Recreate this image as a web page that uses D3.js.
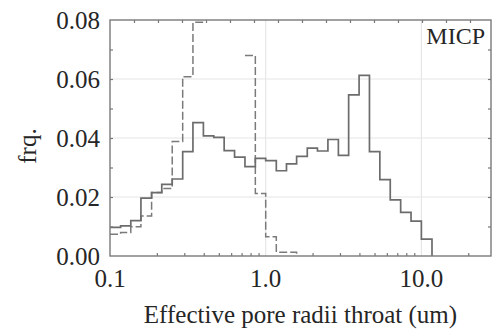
<!DOCTYPE html>
<html>
<head>
<meta charset="utf-8">
<script src="https://cdn.jsdelivr.net/npm/d3@7"></script>
<style>
body { margin:0; background:#fff; }
svg text { font-family:"Liberation Serif", "DejaVu Serif", serif; fill:#262626; }
</style>
</head>
<body>
<div id="chart"></div>
<script>
// bin edges (um), 15 bins per decade
var binEdges = [0.1, 0.117, 0.136, 0.158, 0.185, 0.215, 0.251, 0.293, 0.341, 0.398,
	0.464, 0.541, 0.631, 0.736, 0.858, 1.0, 1.17, 1.36, 1.58, 1.85,
	2.15, 2.51, 2.93, 3.41, 3.98, 4.64, 5.41, 6.31, 7.36, 8.58,
	10.0, 11.7];
// solid series (one value per bin)
var solidVals = [0.0097, 0.0102, 0.0120, 0.0196, 0.0215, 0.0243, 0.0261, 0.0354, 0.0452, 0.0407,
	0.0402, 0.0357, 0.0335, 0.0303, 0.0331, 0.0323, 0.0289, 0.0312, 0.0338, 0.0366,
	0.0356, 0.0395, 0.0341, 0.0546, 0.0612, 0.0354, 0.0259, 0.0190, 0.0148, 0.0118,
	0.0057];
// dashed series, bins 9-12 run off the top of the plot
var dashedVals = [0.0074, 0.0080, 0.0099, 0.0136, 0.0215, 0.0229, 0.0388, 0.0608, 0.0792, 0.095,
	0.10, 0.095, 0.09, 0.068, 0.0212, 0.0065, 0.0013, 0.0013];
var xTickLabels = [0.1, 1, 10];
var xMinorTicks = [0.2,0.3,0.4,0.5,0.6,0.7,0.8,0.9,2,3,4,5,6,7,8,9,20];
var xGrid = [1, 10];
var yTickLabels = [0, 0.02, 0.04, 0.06, 0.08];
var yMinorTicks = [0.01, 0.02, 0.03, 0.04, 0.05, 0.06, 0.07];
var yGrid = [0.02, 0.04, 0.06];
var topTicks = [1,2,3,4,5,6,7,8,9,10,11,12,13,14,15];

var W = 493, H = 329;
var m = {l:110, r:2, t:20, b:73};

var svg = d3.select('#chart').append('svg')
	.attr('width', W)
	.attr('height', H);

var x = d3.scaleLog().domain([0.1, 28]).range([m.l, W-m.r]);
var y = d3.scaleLinear().domain([0, 0.08]).range([H-m.b, m.t]);
var xTop = d3.scaleLinear().domain([0, 15.875]).range([m.l, W-m.r]);

// grid
svg.append('g').selectAll('line').data(yGrid).enter().append('line')
	.attr('x1', m.l).attr('x2', W-m.r)
	.attr('y1', d=>y(d)).attr('y2', d=>y(d))
	.attr('stroke', '#e6e6e6').attr('stroke-width', 1.2);
svg.append('g').selectAll('line').data(xGrid).enter().append('line')
	.attr('x1', d=>x(d)).attr('x2', d=>x(d))
	.attr('y1', m.t).attr('y2', H-m.b)
	.attr('stroke', '#e6e6e6').attr('stroke-width', 1.2);

svg.append('clipPath').attr('id', 'clip')
	.append('rect').attr('x', m.l).attr('y', m.t)
	.attr('width', W-m.r-m.l).attr('height', H-m.b-m.t);

// histogram outline as explicit corner points; points above the y range are dropped
function stepPoints(vals) {
	var pts = [];
	vals.forEach(function(v,i) {
		pts.push([binEdges[i], v]);
		pts.push([binEdges[i+1], v]);
	});
	pts.push([binEdges[vals.length], 0]);
	return pts;
}
var line = d3.line()
	.defined(d=>d[1] <= y.domain()[1])
	.x(d=>x(d[0]))
	.y(d=>y(d[1]));

svg.append('path')
	.datum(stepPoints(dashedVals))
	.attr('clip-path', 'url(#clip)')
	.attr('d', line)
	.attr('fill', 'none')
	.attr('stroke', '#7a7a7a')
	.attr('stroke-width', 1.5)
	.attr('stroke-dasharray', '8,3');

svg.append('path')
	.datum(stepPoints(solidVals))
	.attr('clip-path', 'url(#clip)')
	.attr('d', line)
	.attr('fill', 'none')
	.attr('stroke', '#6c6c6c')
	.attr('stroke-width', 1.7);

// axes with inward ticks
function styleAxis(g) {
	g.selectAll('.domain').remove();
	g.selectAll('line').attr('stroke', '#777').attr('stroke-width', 1.2);
	g.selectAll('text').remove();
}
svg.append('g')
	.attr('transform', 'translate(0,'+(H-m.b)+')')
	.call(d3.axisBottom(x).tickValues(xMinorTicks).tickSize(-3))
	.call(styleAxis);
svg.append('g')
	.attr('transform', 'translate(0,'+m.t+')')
	.call(d3.axisTop(xTop).tickValues(topTicks).tickSize(-3))
	.call(styleAxis);
svg.append('g')
	.attr('transform', 'translate('+m.l+',0)')
	.call(d3.axisLeft(y).tickValues(yMinorTicks).tickSize(-3))
	.call(styleAxis);
svg.append('g')
	.attr('transform', 'translate('+(W-m.r)+',0)')
	.call(d3.axisRight(y).tickValues(yMinorTicks).tickSize(-3))
	.call(styleAxis);

// frame
svg.append('rect')
	.attr('x', m.l).attr('y', m.t)
	.attr('width', W-m.r-m.l).attr('height', H-m.b-m.t)
	.attr('fill', 'none')
	.attr('stroke', '#7a7a7a')
	.attr('stroke-width', 1.4);

// tick labels
svg.append('g').selectAll('text').data(yTickLabels).enter().append('text')
	.attr('x', m.l-10)
	.attr('y', d=>y(d))
	.attr('dy', '0.36em')
	.attr('text-anchor', 'end')
	.style('font-size', '25px')
	.text(d=>d3.format('.2f')(d));
svg.append('g').selectAll('text').data(xTickLabels).enter().append('text')
	.attr('x', d=>x(d))
	.attr('y', H-m.b+31)
	.attr('text-anchor', 'middle')
	.style('font-size', '25px')
	.text(d=>d3.format('.1f')(d));

svg.append('text')
	.attr('x', (m.l+W-m.r)/2)
	.attr('y', H-6)
	.attr('text-anchor', 'middle')
	.style('font-size', '25px')
	.text('Effective pore radii throat (um)');

svg.append('text')
	.attr('transform', 'translate(36,146) rotate(-90)')
	.attr('text-anchor', 'middle')
	.style('font-size', '25px')
	.text('frq.');

svg.append('text')
	.attr('x', W-m.r-6)
	.attr('y', 44)
	.attr('text-anchor', 'end')
	.style('font-size', '24px')
	.text('MICP');
</script>
</body>
</html>
